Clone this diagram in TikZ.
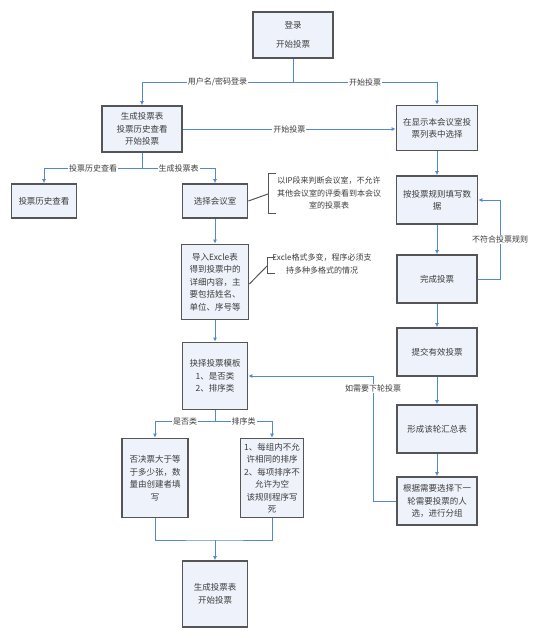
\documentclass[tikz,border=0pt]{standalone}
\usepackage{fontspec}
\setmainfont{Noto Sans CJK SC}
\usetikzlibrary{arrows.meta}
\definecolor{boxfill}{HTML}{EEF3FB}
\definecolor{boxline}{HTML}{555555}
\definecolor{flowblue}{HTML}{5288D2}
\definecolor{txtgray}{HTML}{3C3C3C}
\begin{document}
\begin{tikzpicture}[x=1pt,y=-1pt]

    \tikzset{
      box/.style={
        draw=boxline,
        line width=1.7pt,
        fill=boxfill,
        text=txtgray,
        align=center,
        inner sep=1pt,
        font=\fontsize{8.5}{12.5}\selectfont,
      },
      flow/.style={draw=flowblue, line width=0.9pt},
      arr/.style={flow, -{Latex[length=4pt,width=4pt]}},
      lab/.style={fill=white, inner sep=1pt, text=txtgray, font=\fontsize{8}{10}\selectfont},
      note/.style={text=txtgray, align=center, inner sep=0pt, font=\fontsize{8}{12.5}\selectfont},
      bracket/.style={draw=boxline, line width=1pt},
    }
    \useasboundingbox (0,0) rectangle (547,638);
    % boxes
    \node[box, minimum width=80, minimum height=46] (login) at (293,35) {登录\\[7pt]开始投票};
    \node[box, minimum width=80, minimum height=46] (gen) at (142,129) {生成投票表\\投票历史查看\\开始投票};
    \node[box, minimum width=81, minimum height=45] (show) at (437,128) {在显示本会议室投\\票列表中选择};
    \node[box, minimum width=65, minimum height=34] (hist) at (44,201) {投票历史查看};
    \node[box, minimum width=65, minimum height=34] (room) at (215,201) {选择会议室};
    \node[box, minimum width=81, minimum height=48] (fill) at (437,200) {按投票规则填写数\\据};
    \node[box, minimum width=67, minimum height=75] (excel) at (215,282) {导入Excle表\\得到投票中的\\详细内容，主\\要包括姓名、\\单位、序号等};
    \node[box, minimum width=80, minimum height=48] (done) at (437,279) {完成投票};
    \node[box, minimum width=80, minimum height=48] (submit) at (437,352) {提交有效投票};
    \node[box, minimum width=65, minimum height=67] (tmpl) at (215,376) {抉择投票模板\\1、是否类\\2、排序类};
    \node[box, minimum width=80, minimum height=48] (summary) at (437,429) {形成该轮汇总表};
    \node[box, minimum width=80, minimum height=48] (next) at (437,501) {根据需要选择下一\\轮需要投票的人\\选，进行分组};
    \node[box, minimum width=66, minimum height=79] (veto) at (155,478) {否决票大于等\\于多少张，数\\量由创建者填\\写};
    \node[box, minimum width=63, minimum height=79] (rule) at (272,478) {1、每组内不允\\许相同的排序\\2、每项排序不\\允许为空\\该规则程序写\\死};
    \node[box, minimum width=65, minimum height=66] (final) at (215,594) {生成投票表\\开始投票};

    % notes
    \node[note] (roomnote) at (329,193) {以IP段来判断会议室，不允许\\其他会议室的评委看到本会议\\室的投票表};
    \draw[bracket] (276,173) -- (268,173) -- (268,213) -- (276,213);
    \coordinate (b1) at (268,194);
    \draw[bracket] (room.east) -- (b1);
    \node[note] (excelnote) at (322,264) {Excle格式多变，程序必须支\\持多种多格式的情况};
    \draw[bracket] (275,257) -- (267,257) -- (267,273) -- (275,273);
    \coordinate (b2) at (267,266);
    \draw[bracket] ([yshift=-2pt]excel.east) -- (b2);

    % connectors
    \coordinate (j1) at (293,82);
    \draw[flow] (login) -- (j1);
    \draw[arr] (j1) -| node[lab, pos=0.25] {用户名/密码登录} (gen.north);
    \draw[arr] (j1) -| node[lab, pos=0.25] {开始投票} (show.north);
    \draw[arr] (gen.east) -- node[lab] {开始投票} (gen.east -| show.west);

    \coordinate (j2) at (142,168);
    \draw[flow] (gen) -- (j2);
    \draw[arr] (j2) -| node[lab, pos=0.25] {投票历史查看} (hist.north);
    \draw[arr] (j2) -| node[lab, pos=0.25] {生成投票表} (room.north);

    \draw[arr] (show) -- (fill);
    \draw[arr] (fill) -- (done);
    \draw[arr] (done) -- (submit);
    \draw[arr] (submit) -- (summary);
    \draw[arr] (summary) -- (next);
    \coordinate (c1) at (500,279);
    \draw[arr] (done.east) -- (c1) |- node[lab, pos=0.25] {不符合投票规则} (fill.east);

    \draw[arr] (room) -- (excel);
    \draw[arr] (excel) -- (tmpl);
    \coordinate (c2) at (373,501);
    \draw[arr] (next.west) -- (c2) |- node[lab, pos=0.45] {如需要下轮投票} (tmpl.east);

    \coordinate (j3) at (215,421);
    \draw[flow] (tmpl) -- (j3);
    \draw[arr] (j3) -| node[lab, pos=0.25] {是否类} (veto.north);
    \draw[arr] (j3) -| node[lab, pos=0.25] {排序类} (rule.north);

    \coordinate (j4) at (215,540);
    \draw[flow] (veto.south) |- (j4) -| (rule.south);
    \draw[arr] (j4) -- (final);

\end{tikzpicture}
\end{document}
